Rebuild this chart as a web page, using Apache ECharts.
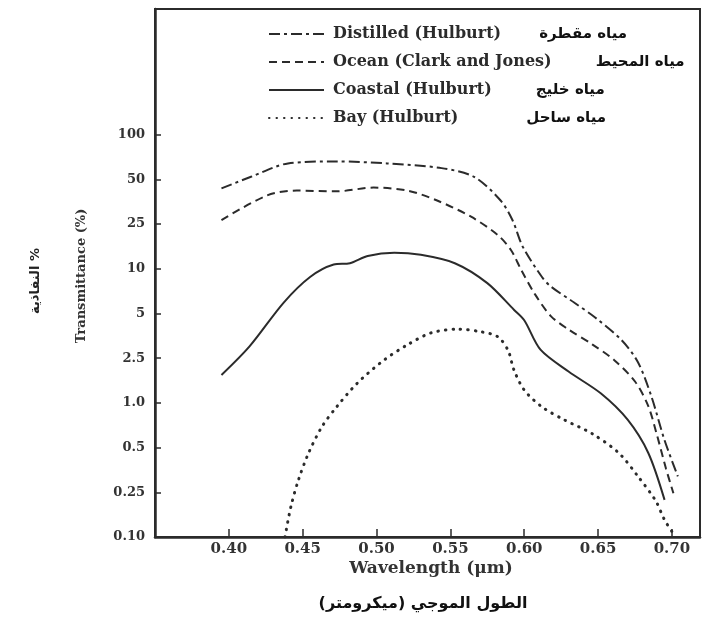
<!DOCTYPE html>
<html><head><meta charset="utf-8">
<script src="https://cdn.jsdelivr.net/npm/echarts@6/dist/echarts.min.js"></script>
<style>html,body{margin:0;padding:0;background:#fff}#c{width:703px;height:623px}</style>
</head><body><div id="c"></div>
<script>
// Y axis tick labels (evenly spaced in the original figure)
const tickLabels = ['0.10','0.25','0.5','1.0','2.5','5','10','25','50','100'];
const tickValues = [0.10,0.25,0.5,1.0,2.5,5,10,25,50,100];
const xTicks = [0.40,0.45,0.50,0.55,0.60,0.65,0.70];

const seriesNames = ['Distilled (Hulburt)','Ocean (Clark and Jones)','Coastal (Hulburt)','Bay (Hulburt)'];
const arabicNames = ['مياه مقطرة','مياه المحيط','مياه خليج','مياه ساحل'];

const distilledWl = [0.395,0.415,0.440,0.473,0.507,0.544,0.566,0.584,0.592,0.599,0.612,0.618,0.634,0.648,0.666,0.677,0.686,0.695,0.704];
const distilledT  = [43.5,52,64,66,64,59.5,52,36,26.6,15.7,8.8,7.6,5.9,4.7,3.3,2.3,1.15,0.56,0.32];

const oceanWl = [0.395,0.426,0.446,0.473,0.498,0.521,0.541,0.564,0.582,0.591,0.598,0.607,0.618,0.630,0.646,0.661,0.675,0.684,0.690,0.696,0.701];
const oceanT  = [26.6,39,42,41.5,44,42,36,28,20,14.7,9.8,6.8,4.8,3.9,3.1,2.4,1.55,0.95,0.6,0.36,0.245];

const coastalWl = [0.395,0.414,0.437,0.455,0.471,0.482,0.494,0.512,0.530,0.553,0.575,0.593,0.600,0.611,0.630,0.652,0.670,0.684,0.695];
const coastalT  = [1.77,3.0,5.9,8.8,10.9,11.2,13.0,13.9,13.3,11.2,8.0,5.3,4.5,2.85,1.9,1.21,0.77,0.46,0.214];

const bayWl = [0.438,0.442,0.447,0.454,0.463,0.473,0.487,0.505,0.521,0.537,0.555,0.571,0.582,0.589,0.593,0.600,0.612,0.627,0.646,0.664,0.677,0.689,0.695,0.701];
const bayT  = [0.10,0.186,0.30,0.46,0.69,0.94,1.5,2.4,3.08,3.7,3.92,3.76,3.49,2.83,1.97,1.30,0.94,0.77,0.62,0.46,0.32,0.21,0.142,0.107];

// The figure's own y scale: tick labels evenly spaced, log-interpolated between ticks
function yPos(v){
  if (v <= tickValues[0]) return 0;
  for (let i=0;i<tickValues.length-1;i++){
    if (v <= tickValues[i+1]) return i + Math.log(v/tickValues[i])/Math.log(tickValues[i+1]/tickValues[i]);
  }
  return tickValues.length-1;
}
function pairs(xs, ys){ return xs.map((x,i)=>[x, yPos(ys[i])]); }
const rtl = s => '\u202B' + s + '\u202C';

const ink = '#2b2b2b';
const serif = "'DejaVu Serif', 'Liberation Serif', serif";
const arab = "'DejaVu Sans', sans-serif";
const dashes = [[11,4,3,4],[8,5],'solid',[0.5,7]];
const widths = [2,2,2,3];
const dataSets = [pairs(distilledWl,distilledT),pairs(oceanWl,oceanT),pairs(coastalWl,coastalT),pairs(bayWl,bayT)];
const arGap = [38,44,44,68];
const arStyle = g => ({fontFamily:arab,fontWeight:'bold',fontSize:15,color:'#111',padding:[0,0,0,g]});

const chart = echarts.init(document.getElementById('c'), null, {renderer:'canvas'});
chart.setOption({
  animation:false,
  backgroundColor:'#fff',
  grid:{left:155,right:3,top:9,bottom:86,show:true,borderColor:ink,borderWidth:2,backgroundColor:'transparent'},
  legend:{
    orient:'vertical', left:263, top:21, itemWidth:55, itemHeight:14, itemGap:12,
    data:seriesNames,
    itemStyle:{opacity:0},
    formatter:function(name){ const i=seriesNames.indexOf(name); return '{en|'+name+'}{ar'+i+'|'+rtl(arabicNames[i])+'}'; },
    textStyle:{color:ink, padding:[0,0,0,4],
      rich:{
        en:{fontFamily:serif,fontWeight:'bold',fontSize:16,color:ink},
        ar0:arStyle(arGap[0]), ar1:arStyle(arGap[1]), ar2:arStyle(arGap[2]), ar3:arStyle(arGap[3])
      }}
  },
  xAxis:{type:'value',min:0.35,max:0.719,
    axisLine:{show:true,lineStyle:{color:ink,width:2.5}},
    axisTick:{show:true,inside:true,length:8,lineStyle:{color:ink,width:1.5},customValues:xTicks},
    axisLabel:{customValues:xTicks,formatter:v=>v.toFixed(2),color:'#333',fontFamily:serif,fontWeight:'bold',fontSize:15,margin:5},
    splitLine:{show:false}},
  yAxis:{type:'value',min:0,max:11.81,
    axisLine:{show:true,lineStyle:{color:ink,width:2.5}},
    axisTick:{show:true,inside:true,length:6,lineStyle:{color:ink,width:1.5},customValues:[0,1,2,3,4,5,6,7,8,9]},
    axisLabel:{customValues:[0,1,2,3,4,5,6,7,8,9],formatter:v=>tickLabels[Math.round(v)]||'',color:'#333',fontFamily:serif,fontWeight:'bold',fontSize:13,margin:10},
    splitLine:{show:false}},
  graphic:[
    {type:'text',x:82,y:276,rotation:Math.PI/2,style:{text:'Transmittance (%)',fill:'#333',font:"bold 13px 'DejaVu Serif'",textAlign:'center',textVerticalAlign:'middle'}},
    {type:'text',x:36,y:281,rotation:Math.PI/2,style:{text:'النفاذية %',fill:'#222',font:"bold 13px 'DejaVu Sans'",textAlign:'center',textVerticalAlign:'middle'}},
    {type:'text',x:431,y:569,style:{text:'Wavelength (μm)',fill:'#333',font:"bold 17px 'DejaVu Serif'",textAlign:'center',textVerticalAlign:'middle'}},
    {type:'text',x:423,y:604,style:{text:rtl('الطول الموجي (ميكرومتر)'),fill:'#111',font:"bold 16px 'DejaVu Sans'",textAlign:'center',textVerticalAlign:'middle'}}
  ],
  series:seriesNames.map((n,i)=>({
    name:n,type:'line',data:dataSets[i],symbol:'none',smooth:0.3,
    lineStyle:{color:ink,width:widths[i],type:dashes[i],cap:i===3?'round':'butt'},
    itemStyle:{color:ink}
  }))
});
</script></body></html>
